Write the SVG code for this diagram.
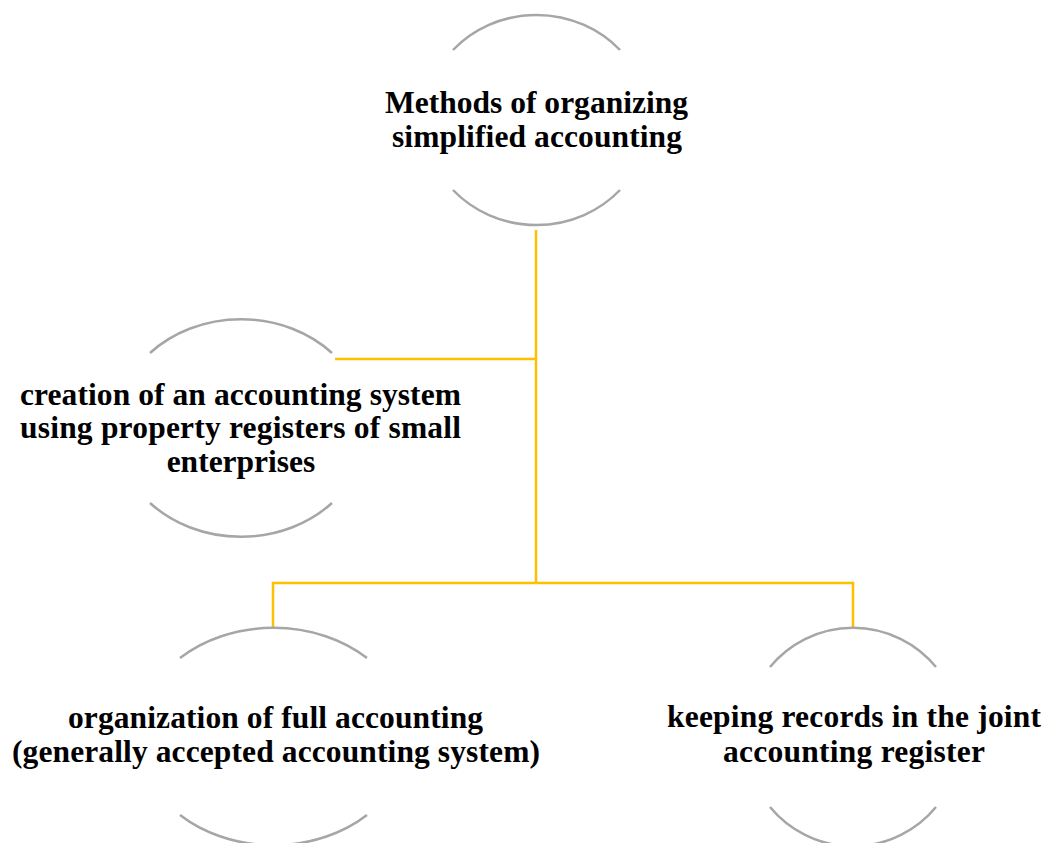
<svg xmlns="http://www.w3.org/2000/svg" width="1043" height="843" viewBox="0 0 1043 843">
<style>
.arc{fill:none;stroke:#A6A6A6;stroke-width:2.5}
.conn{fill:none;stroke:#FFC000;stroke-width:2.5}
.lbl{font-family:"Liberation Serif","Times New Roman",serif;font-weight:bold;font-size:31.5px;fill:#000;text-anchor:middle}
</style>
<rect width="1043" height="843" fill="#fff"/>
<g id="connectors">
<path class="conn" d="M536 230 V583"/>
<path class="conn" d="M335 359 H536"/>
<path class="conn" d="M273 628 V583 H853 V628"/>
</g>
<g id="node-root">
<path class="arc" d="M453 50 A113 107.5 0 0 1 620 50"/>
<path class="arc" d="M453 190 A113 107.5 0 0 0 620 190"/>
<text class="lbl" x="536.5" y="113" textLength="303" lengthAdjust="spacing">Methods of organizing</text>
<text class="lbl" x="537" y="147" textLength="290" lengthAdjust="spacing">simplified accounting</text>
</g>
<g id="node-registers">
<path class="arc" d="M150 353 A126 109.5 0 0 1 332 353"/>
<path class="arc" d="M150 503 A126 109.5 0 0 0 332 503"/>
<text class="lbl" x="240.5" y="405" textLength="441" lengthAdjust="spacing">creation of an accounting system</text>
<text class="lbl" x="240.5" y="438" textLength="441" lengthAdjust="spacing">using property registers of small</text>
<text class="lbl" x="241" y="472">enterprises</text>
</g>
<g id="node-full">
<path class="arc" d="M180 658 A135 108.5 0 0 1 367 658"/>
<path class="arc" d="M180 815 A135 108.5 0 0 0 367 815"/>
<text class="lbl" x="275.5" y="728" textLength="415" lengthAdjust="spacing">organization of full accounting</text>
<text class="lbl" x="276" y="762" textLength="528" lengthAdjust="spacing">(generally accepted accounting system)</text>
</g>
<g id="node-joint">
<path class="arc" d="M770 667 A108 109 0 0 1 936 667"/>
<path class="arc" d="M770 807 A108 109 0 0 0 936 807"/>
<text class="lbl" x="854" y="727" textLength="374" lengthAdjust="spacing">keeping records in the joint</text>
<text class="lbl" x="854" y="762" textLength="262" lengthAdjust="spacing">accounting register</text>
</g>
</svg>
